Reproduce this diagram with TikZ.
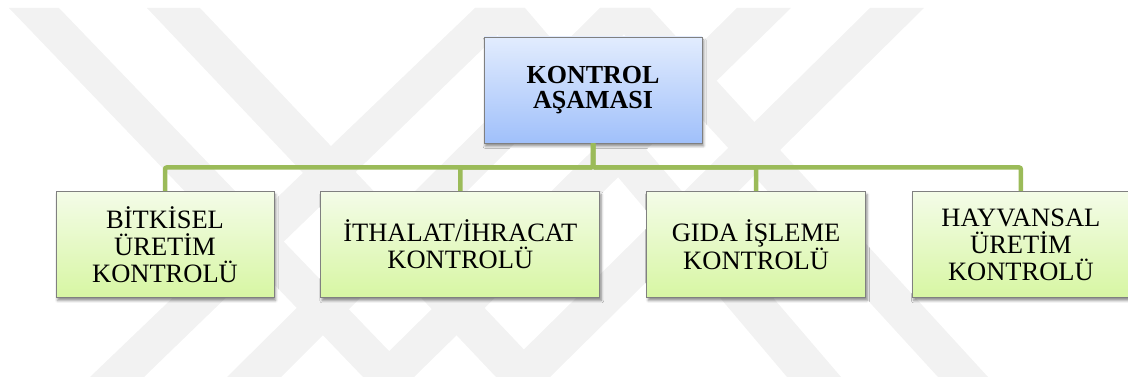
\documentclass[tikz,border=0pt]{standalone}
\usepackage{fontspec}
\setmainfont{Liberation Serif}
\usepackage{tikz}
\usetikzlibrary{positioning, shadows.blur}

\definecolor{wmgray}{RGB}{242,242,242}
\definecolor{boxgray}{RGB}{128,128,128}
\definecolor{linkgreen}{RGB}{155,187,89}
\definecolor{blueTop}{RGB}{226,236,254}
\definecolor{blueBot}{RGB}{160,192,250}
\definecolor{greenTop}{RGB}{244,252,232}
\definecolor{greenBot}{RGB}{215,246,163}

\begin{document}
\begin{tikzpicture}[
  x=1pt, y=1pt,
  node distance=46pt,
  box/.style={draw=boxgray, line width=0.8pt, minimum height=106pt,
              align=center, inner sep=2pt,
              blur shadow={shadow xshift=1.5pt, shadow yshift=-3pt,
                           shadow blur radius=2.5pt, shadow opacity=45}},
  topbox/.style={box, top color=blueTop, bottom color=blueBot,
                 minimum width=218pt,
                 font=\bfseries\fontsize{26}{25}\selectfont},
  subbox/.style={box, top color=greenTop, bottom color=greenBot,
                 font=\fontsize{26.5}{27}\selectfont},
  link/.style={draw=linkgreen, line width=4.5pt, rounded corners=2pt}
]
  \useasboundingbox (0,0) rectangle (1128,383);

  % watermark
  \fill[wmgray] (9,375)   -- (59,375)  -- (414,6) -- (363,6) -- cycle;
  \fill[wmgray] (737,375) -- (791,375) -- (414,6) -- (363,6) -- cycle;
  \fill[wmgray] (147,375) -- (200,375) -- (550,6) -- (496,6) -- cycle;
  \fill[wmgray] (870,375) -- (924,375) -- (550,6) -- (496,6) -- cycle;
  \fill[wmgray] (475,375) -- (525,375) -- (144,6) -- (90,6)  -- cycle;
  \fill[wmgray] (475,375) -- (525,375) -- (841,6) -- (787,6) -- cycle;
  \fill[wmgray] (600,375) -- (650,375) -- (281,6) -- (227,6) -- cycle;
  \fill[wmgray] (600,375) -- (650,375) -- (988,6) -- (938,6) -- cycle;

  \node[topbox] (kontrol) at (593,293) {KONTROL\\AŞAMASI};

  \node[subbox, minimum width=218pt] (bitkisel) at (165,138.5)
        {BİTKİSEL\\ÜRETİM\\KONTROLÜ};
  \node[subbox, minimum width=279pt, right=of bitkisel] (ithalat)
        {İTHALAT/İHRACAT\\KONTROLÜ};
  \node[subbox, minimum width=219pt, right=of ithalat] (gida)
        {GIDA İŞLEME\\KONTROLÜ};
  \node[subbox, minimum width=217pt, right=of gida] (hayvansal)
        {HAYVANSAL\\ÜRETİM\\KONTROLÜ};

  \draw[link] (kontrol.south) -- ++(0,-24) -| (bitkisel.north);
  \draw[link] (kontrol.south) -- ++(0,-24) -| (ithalat.north);
  \draw[link] (kontrol.south) -- ++(0,-24) -| (gida.north);
  \draw[link] (kontrol.south) -- ++(0,-24) -| (hayvansal.north);
\end{tikzpicture}
\end{document}
